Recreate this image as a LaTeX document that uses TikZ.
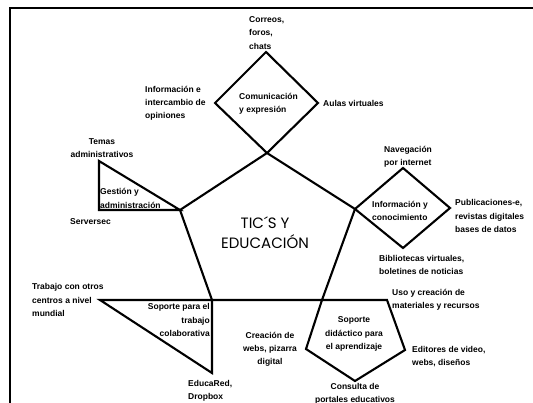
\documentclass[tikz,border=0pt]{standalone}
\usepackage{fontspec}
\setmainfont{Liberation Sans}
\newfontfamily\titlefont{Poppins}

\tikzset{
  lbl/.style={font=\bfseries\fontsize{8.5}{13.2}\selectfont, inner sep=0pt, align=left, anchor=west},
  lblc/.style={lbl, align=center, anchor=center},
  lblr/.style={lbl, align=right, anchor=east},
  outline/.style={line width=2.1pt, line join=miter}
}

\begin{document}
\begin{tikzpicture}[x=1pt,y=-1pt]
\useasboundingbox (0,0) rectangle (533,403);
\draw[line width=1.5pt] (10,403) -- (10,8) -- (533,8);

% pentagono central
\coordinate (ptop) at (267,153);
\coordinate (pleft) at (180,210);
\coordinate (pright) at (355,209);
\coordinate (pbl) at (212,300);
\coordinate (pbr) at (322,300);
\draw[outline] (ptop) -- (pright) -- (pbr) -- (pbl) -- (pleft) -- cycle;
\node[font=\titlefont\fontsize{15}{20}\selectfont, align=center, inner sep=0pt] (tics) at (265,233) {TIC´S Y\\EDUCACIÓN};

% comunicacion
\coordinate (ctop) at (266,52);
\coordinate (cleft) at (215,103);
\coordinate (cright) at (318,103);
\draw[outline] (ptop) -- (cleft) -- (ctop) -- (cright) -- cycle;
\node[lbl] (comunic) at (239,103.5) {Comunicación\\y expresión};
\node[lbl] (correos) at (249,33) {Correos,\\foros,\\chats};
\node[lbl] (inter) at (145,103) {Información e\\intercambio de\\opiniones};
\node[lbl] (aulas) at (323,103) {Aulas virtuales};

% gestion
\coordinate (gtop) at (99,161);
\coordinate (gbot) at (99,210);
\draw[outline] (pleft) -- (gtop) -- (gbot) -- cycle;
\node[lbl] (gestion) at (100,198.5) {Gestión y\\administración};
\node[lblc] (temas) at (102,148) {Temas\\administrativos};
\node[lbl] (server) at (70,222) {Serversec};

% informacion
\coordinate (itop) at (403,168);
\coordinate (iright) at (450,208);
\coordinate (ibot) at (403,248);
\draw[outline] (pright) -- (itop) -- (iright) -- (ibot) -- cycle;
\node[lbl] (infocon) at (372,211) {Información y\\conocimiento};
\node[lbl] (naveg) at (384,156.5) {Navegación\\por internet};
\node[lbl] (public) at (455,216) {Publicaciones-e,\\revistas digitales\\bases de datos};
\node[lbl] (biblio) at (379,265) {Bibliotecas virtuales,\\boletines de noticias};

% trabajo colaborativo
\coordinate (tleft) at (100,300);
\coordinate (tbot) at (212,373);
\draw[outline] (tleft) -- (pbl) -- (tbot) -- cycle;
\node[lblr] (colab) at (210,320) {Soporte para el\\trabajo\\colaborativa};
\node[lbl] (otros) at (32,300) {Trabajo con otros\\centros a nivel\\mundial};
\node[lbl] (educa) at (188,391) {EducaRed,\\Dropbox};

% soporte didactico
\coordinate (sright) at (387,300);
\coordinate (sre) at (405,350);
\coordinate (sbot) at (355,381);
\coordinate (sle) at (306,349);
\draw[outline] (pbr) -- (sright) -- (sre) -- (sbot) -- (sle) -- cycle;
\node[lblc] (didact) at (354,334) {Soporte\\didáctico para\\el aprendizaje};
\node[lbl] (uso) at (392,300) {Uso y creación de\\materiales y recursos};
\node[lblc] (webs) at (270,349.5) {Creación de\\webs, pizarra\\digital};
\node[lbl] (editores) at (412,356.5) {Editores de video,\\webs, diseños};
\node[lblc] (consulta) at (355,393.5) {Consulta de\\portales educativos};

\end{tikzpicture}
\end{document}
